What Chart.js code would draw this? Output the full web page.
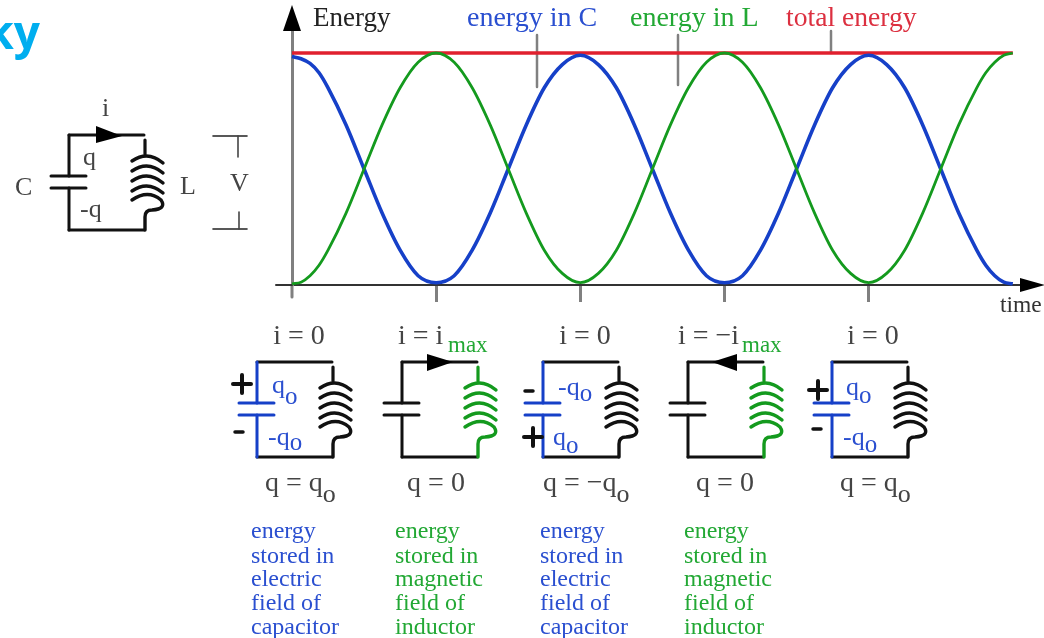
<!DOCTYPE html>
<html>
<head>
<meta charset="utf-8">
<style>
html,body{margin:0;padding:0;background:#fff;overflow:hidden}
canvas{display:block;filter:blur(0.7px)}
</style>
<script src="https://cdn.jsdelivr.net/npm/chart.js@4/dist/chart.umd.js"></script>
</head>
<body>
<canvas id="c" width="1044" height="638"></canvas>
<script>
const timeValues = [0,0.0625,0.125,0.1875,0.25,0.375,0.5,0.625,0.75,0.875,1,1.125,1.25,1.375,1.5,1.625,1.75,1.875,2,2.125,2.25,2.375,2.5,2.625,2.75,2.875,3,3.125,3.25,3.375,3.5,3.625,3.75,3.875,4,4.125,4.25,4.375,4.5,4.625,4.75,4.8125,4.875,4.9375,5];
const energyInC = [0.985,0.975,0.955,0.915,0.85,0.69,0.5,0.31,0.15,0.04,0.01,0.04,0.15,0.31,0.5,0.69,0.85,0.95,0.99,0.95,0.85,0.69,0.5,0.31,0.15,0.04,0.01,0.04,0.15,0.31,0.5,0.69,0.85,0.95,0.99,0.95,0.85,0.69,0.5,0.31,0.15,0.085,0.04,0.012,0.005];
const energyInL = [0.005,0.012,0.04,0.085,0.15,0.31,0.5,0.69,0.85,0.96,1,0.96,0.85,0.69,0.5,0.31,0.15,0.05,0.01,0.05,0.15,0.31,0.5,0.69,0.85,0.96,1,0.96,0.85,0.69,0.5,0.31,0.15,0.05,0.01,0.05,0.15,0.31,0.5,0.69,0.85,0.915,0.96,0.99,1];
const totalEnergy = [1,1,1,1,1,1,1,1,1,1,1,1,1,1,1,1,1,1,1,1,1,1,1,1,1,1,1,1,1,1,1,1,1,1,1,1,1,1,1,1,1,1,1,1,1];

const BLUE='#1640c8', GREEN='#149a1e', RED='#e0202e', GRAY='#808080', INK='#111', TXT='#444';
const TBLUE='#2a4fd0', TGREEN='#22a834', TRED='#dc3040';
const SERIF='"Liberation Serif","Times New Roman",serif';

function toPts(ys){return ys.map((y,i)=>({x:timeValues[i],y}));}

function seg(ctx,pts,color,w){
  ctx.save();ctx.strokeStyle=color;ctx.lineWidth=w;ctx.lineCap='round';ctx.lineJoin='round';
  ctx.beginPath();pts.forEach((p,i)=>i?ctx.lineTo(p[0],p[1]):ctx.moveTo(p[0],p[1]));ctx.stroke();ctx.restore();
}
function tri(ctx,a,b,c,color){
  ctx.save();ctx.fillStyle=color;ctx.beginPath();ctx.moveTo(...a);ctx.lineTo(...b);ctx.lineTo(...c);ctx.closePath();ctx.fill();ctx.restore();
}
function txt(ctx,s,x,y,size,color,align){
  ctx.save();ctx.font=size+'px '+SERIF;ctx.fillStyle=color;ctx.textAlign=align||'left';ctx.textBaseline='alphabetic';
  ctx.fillText(s,x,y);ctx.restore();
}
function coil(ctx,dx,dy,color){
  ctx.save();ctx.strokeStyle=color;ctx.lineWidth=3.4;ctx.lineCap='round';
  seg(ctx,[[333+dx,367+dy],[333+dx,381+dy]],color,3.2);
  [385,395,405,415].forEach(y=>{
    ctx.beginPath();ctx.moveTo(320+dx,y+3+dy);ctx.quadraticCurveTo(336+dx,y-8+dy,351+dx,y+5+dy);ctx.stroke();
  });
  ctx.beginPath();ctx.moveTo(320+dx,427+dy);ctx.quadraticCurveTo(336+dx,416+dy,349+dx,427+dy);
  ctx.quadraticCurveTo(355+dx,436+dy,340+dx,437+dy);ctx.quadraticCurveTo(333+dx,437+dy,333+dx,444+dy);
  ctx.lineTo(333+dx,457+dy);ctx.stroke();
  ctx.restore();
}
function circuit(ctx,dx,dy,capColor,coilColor){
  seg(ctx,[[257+dx,362+dy],[332+dx,362+dy]],INK,3);
  seg(ctx,[[257+dx,457+dy],[332+dx,457+dy]],INK,3);
  seg(ctx,[[257+dx,362+dy],[257+dx,403+dy]],capColor,3);
  seg(ctx,[[257+dx,415+dy],[257+dx,457+dy]],capColor,3);
  seg(ctx,[[239+dx,403+dy],[274+dx,403+dy]],capColor,3);
  seg(ctx,[[239+dx,415+dy],[274+dx,415+dy]],capColor,3);
  coil(ctx,dx,dy,coilColor);
}
function plus(ctx,x,y){seg(ctx,[[x-9,y],[x+9,y]],INK,4);seg(ctx,[[x,y-9],[x,y+9]],INK,4);}
function minus(ctx,x,y){seg(ctx,[[x-4,y],[x+4,y]],INK,3.5);}
function qo(ctx,s,x,y,oy,color,size,oSize){
  txt(ctx,s,x,y,size,color);
  ctx.save();ctx.font=size+'px '+SERIF;const w=ctx.measureText(s).width;ctx.restore();
  txt(ctx,'o',x+w,oy,oSize||size-1,color);
}

const backdrop={
  id:'backdrop',
  beforeDatasetsDraw(chart){
    const ctx=chart.ctx;
    seg(ctx,[[292,285],[292,297]],GRAY,3);
    seg(ctx,[[276,285],[292,285]],'#333',2);
    seg(ctx,[[537,35],[537,87]],GRAY,2.5);
    seg(ctx,[[678,35],[678,85]],GRAY,2.5);
    seg(ctx,[[831,31],[831,53]],GRAY,2.5);
  },
  afterDatasetsDraw(chart){
    const ctx=chart.ctx;
    tri(ctx,[292,5],[283,31],[301,31],'#000');
    tri(ctx,[1045,285],[1020,278],[1020,292],'#000');
    ctx.save();ctx.font='bold 46px "Open Sans",sans-serif';ctx.fillStyle='#00aeef';ctx.textAlign='right';
    ctx.fillText('ky',40,49);ctx.restore();
    txt(ctx,'Energy',313,26,27,'#222');
    txt(ctx,'energy in C',467,26,28,TBLUE);
    txt(ctx,'energy in L',630,26,28,TGREEN);
    txt(ctx,'total energy',786,26,27.6,TRED);
    txt(ctx,'time',1000,312,23.5,'#333');

    circuit(ctx,-188,-227,INK,INK);
    tri(ctx,[122,136],[96,126],[96,143],'#000');
    txt(ctx,'i',102,116,26,TXT);
    txt(ctx,'q',83,165,26,TXT);
    txt(ctx,'-q',80,217,26,TXT);
    txt(ctx,'C',15,195,26,TXT);
    txt(ctx,'L',180,194,26,TXT);
    txt(ctx,'V',230,191,26,TXT);
    seg(ctx,[[213,136],[247,136]],'#222',1.6);
    seg(ctx,[[238,136],[238,157]],'#444',1.6);
    seg(ctx,[[213,229],[247,229]],'#222',1.6);
    seg(ctx,[[239,212],[239,229]],'#444',1.6);

    circuit(ctx,0,0,BLUE,INK);
    circuit(ctx,145,0,INK,GREEN);
    circuit(ctx,286,0,BLUE,INK);
    circuit(ctx,431,0,INK,GREEN);
    circuit(ctx,575,0,BLUE,INK);
    tri(ctx,[453,362],[427,354],[427,371],'#000');
    tri(ctx,[712,362],[737,354],[737,371],'#000');
    plus(ctx,242,384);minus(ctx,239,432);
    minus(ctx,529,391);plus(ctx,533,437);
    plus(ctx,818,390);minus(ctx,817,429);

    txt(ctx,'i = 0',299,344,28,TXT,'center');
    txt(ctx,'i = i',398,344,28,TXT);
    txt(ctx,'max',448,352,23,TGREEN);
    txt(ctx,'i = 0',585,344,28,TXT,'center');
    txt(ctx,'i = −i',678,344,28,TXT);
    txt(ctx,'max',742,352,23,TGREEN);
    txt(ctx,'i = 0',873,344,28,TXT,'center');

    qo(ctx,'q',272,393,404,TBLUE,26);
    qo(ctx,'-q',268,445,450,TBLUE,26);
    qo(ctx,'-q',558,395,401,TBLUE,26);
    qo(ctx,'q',553,445,453,TBLUE,26);
    qo(ctx,'q',846,395,403,TBLUE,26);
    qo(ctx,'-q',843,445,452,TBLUE,26);

    qo(ctx,'q = q',265,491,502,TXT,28,26);
    txt(ctx,'q = 0',436,491,28,TXT,'center');
    qo(ctx,'q = −q',543,491,502,TXT,28,26);
    txt(ctx,'q = 0',725,491,28,TXT,'center');
    qo(ctx,'q = q',840,491,502,TXT,28,26);

    const rows=[538,563,586,610,634];
    const caps=[[251,TBLUE,['energy','stored in','electric','field of','capacitor']],
                [395,TGREEN,['energy','stored in','magnetic','field of','inductor']],
                [540,TBLUE,['energy','stored in','electric','field of','capacitor']],
                [684,TGREEN,['energy','stored in','magnetic','field of','inductor']]];
    caps.forEach(c=>c[2].forEach((s,i)=>txt(ctx,s,c[0],rows[i],24,c[1])));
  }
};

new Chart(document.getElementById('c'),{
  type:'scatter',
  data:{datasets:[
    {label:'energy in L',data:toPts(energyInL),showLine:true,borderColor:GREEN,borderWidth:2.8,pointRadius:0,cubicInterpolationMode:'monotone',clip:false},
    {label:'energy in C',data:toPts(energyInC),showLine:true,borderColor:BLUE,borderWidth:3.6,pointRadius:0,cubicInterpolationMode:'monotone',clip:false},
    {label:'total energy',data:toPts(totalEnergy),showLine:true,borderColor:RED,borderWidth:3.4,pointRadius:0,tension:0,clip:false}
  ]},
  plugins:[backdrop],
  options:{
    responsive:false,animation:false,
    layout:{padding:{left:292,right:24,top:31,bottom:335}},
    plugins:{legend:{display:false},tooltip:{enabled:false},title:{display:false}},
    scales:{
      x:{type:'linear',min:0,max:5.05,
        afterFit(s){s.height=18;},
        border:{color:'#333',width:2},
        grid:{drawOnChartArea:false,drawTicks:true,tickLength:17,tickWidth:3,
              tickColor:c=>(c.tick&&(c.tick.value===0||c.tick.value>5))?'rgba(0,0,0,0)':GRAY},
        ticks:{stepSize:1,autoSkip:false,maxRotation:0,callback:()=>''}},
      y:{type:'linear',min:0,max:1.0948,
        afterFit(s){s.width=0;},
        border:{color:GRAY,width:3},
        grid:{drawOnChartArea:false,drawTicks:false},
        ticks:{display:false}}
    }
  }
});
</script>
</body>
</html>
